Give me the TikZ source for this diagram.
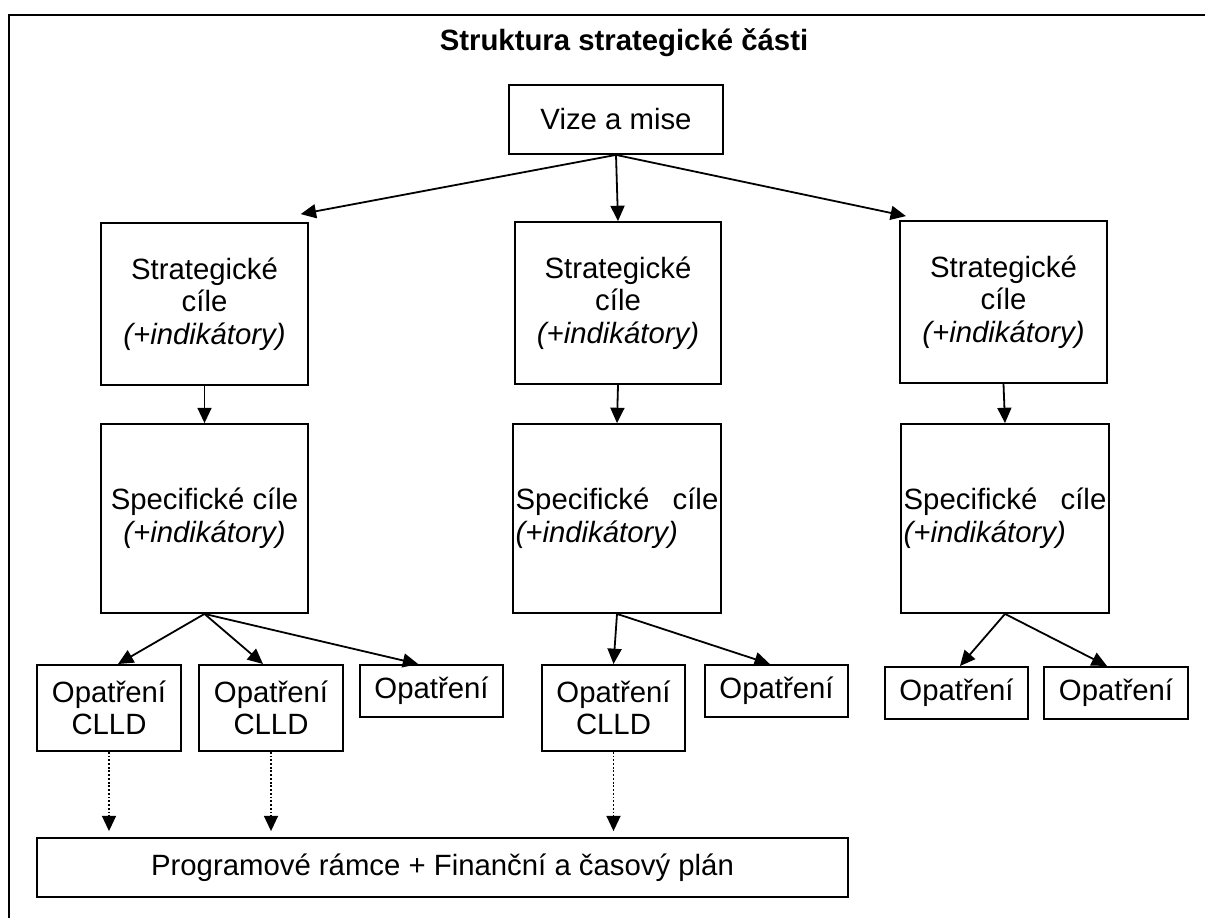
\documentclass[tikz,border=0pt]{standalone}
\usepackage{fontspec}
\setmainfont{Liberation Sans}
\usetikzlibrary{arrows.meta,positioning}

\begin{document}
\begin{tikzpicture}[x=0.75pt, y=-0.75pt, >={Triangle[length=11.5pt,width=10.5pt]}, line width=1.35pt,
	font=\fontsize{22}{24.5}\selectfont,
	box/.style={draw, rectangle, align=center, inner sep=2pt, minimum width=155pt},
	strat/.style={box, minimum height=121.5pt},
	spec/.style={box, minimum height=141.75pt},
	op/.style={box, anchor=north, minimum width=107.5pt, minimum height=39pt},
	clld/.style={op, minimum height=64.5pt}]
	\useasboundingbox (0,0) rectangle (1209,918);
	\draw[line width=1.9pt] (9,918) -- (9,15) -- (1205,15);
	
	\node (title) at (624,43) {\textbf{Struktura strategické části}};
	\node[box, minimum width=160.5pt, minimum height=51.75pt] (vize) at (616,119.5) {Vize a mise};
	
	\node[strat] (sc1) at (204.5,304) {Strategické\\cíle\\\textit{(+indikátory)}};
	\node[strat] (sc2) at (618,303) {Strategické\\cíle\\\textit{(+indikátory)}};
	\node[strat] (sc3) at (1003.5,302) {Strategické\\cíle\\\textit{(+indikátory)}};
	
	\node[spec] (spc1) at (204.5,518.5) {Specifické cíle\\\textit{(+indikátory)}};
	\node[spec, align=left, text width=152pt] (spc2) at (617,518.5) {Specifické\hfill cíle\\\textit{(+indikátory)}};
	\node[spec, align=left, text width=152pt] (spc3) at (1005,518.5) {Specifické\hfill cíle\\\textit{(+indikátory)}};
	
	\node[clld] (op1) at (109,664) {Opatření\\CLLD};
	\node[clld] (op2) at (271,664) {Opatření\\CLLD};
	\node[op] (op3) at (431.5,664) {Opatření};
	\node[clld] (op4) at (613.5,664) {Opatření\\CLLD};
	\node[op] (op5) at (776.5,664) {Opatření};
	\node[op] (op6) at (956.5,666) {Opatření};
	\node[op] (op7) at (1116,666) {Opatření};
	
	\node[box, minimum width=608.25pt, minimum height=44.25pt] (plan) at (442.5,867.5) {Programové rámce + Finanční a časový plán};
	
	\draw[->] (vize.south) -- ([xshift=-6pt,yshift=6pt]sc1.north east);
	\draw[->] (vize.south) -- (sc2.north);
	\draw[->] (vize.south) -- ([xshift=5pt,yshift=3pt]sc3.north west);
	\foreach \i in {1,2,3}
		\draw[->] (sc\i.south) -- (spc\i.north);
	
	\draw[->] (spc1.south) -- ([xshift=6.75pt]op1.north);
	\draw[->] (spc1.south) -- ([xshift=-6pt]op2.north);
	\draw[->] (spc1.south) -- ([xshift=-10pt]op3.north);
	\draw[->] (spc2.south) -- (op4.north);
	\draw[->] (spc2.south) -- ([xshift=-5pt]op5.north);
	\draw[->] (spc3.south) -- ([xshift=2.6pt]op6.north);
	\draw[->] (spc3.south) -- ([xshift=-6.75pt]op7.north);
	
	\foreach \o in {op1,op2,op4}
		\draw[->, dash pattern=on 1.4pt off 1.4pt, shorten >=4.5pt] (\o.south) -- (\o.south |- plan.north);
\end{tikzpicture}
\end{document}
